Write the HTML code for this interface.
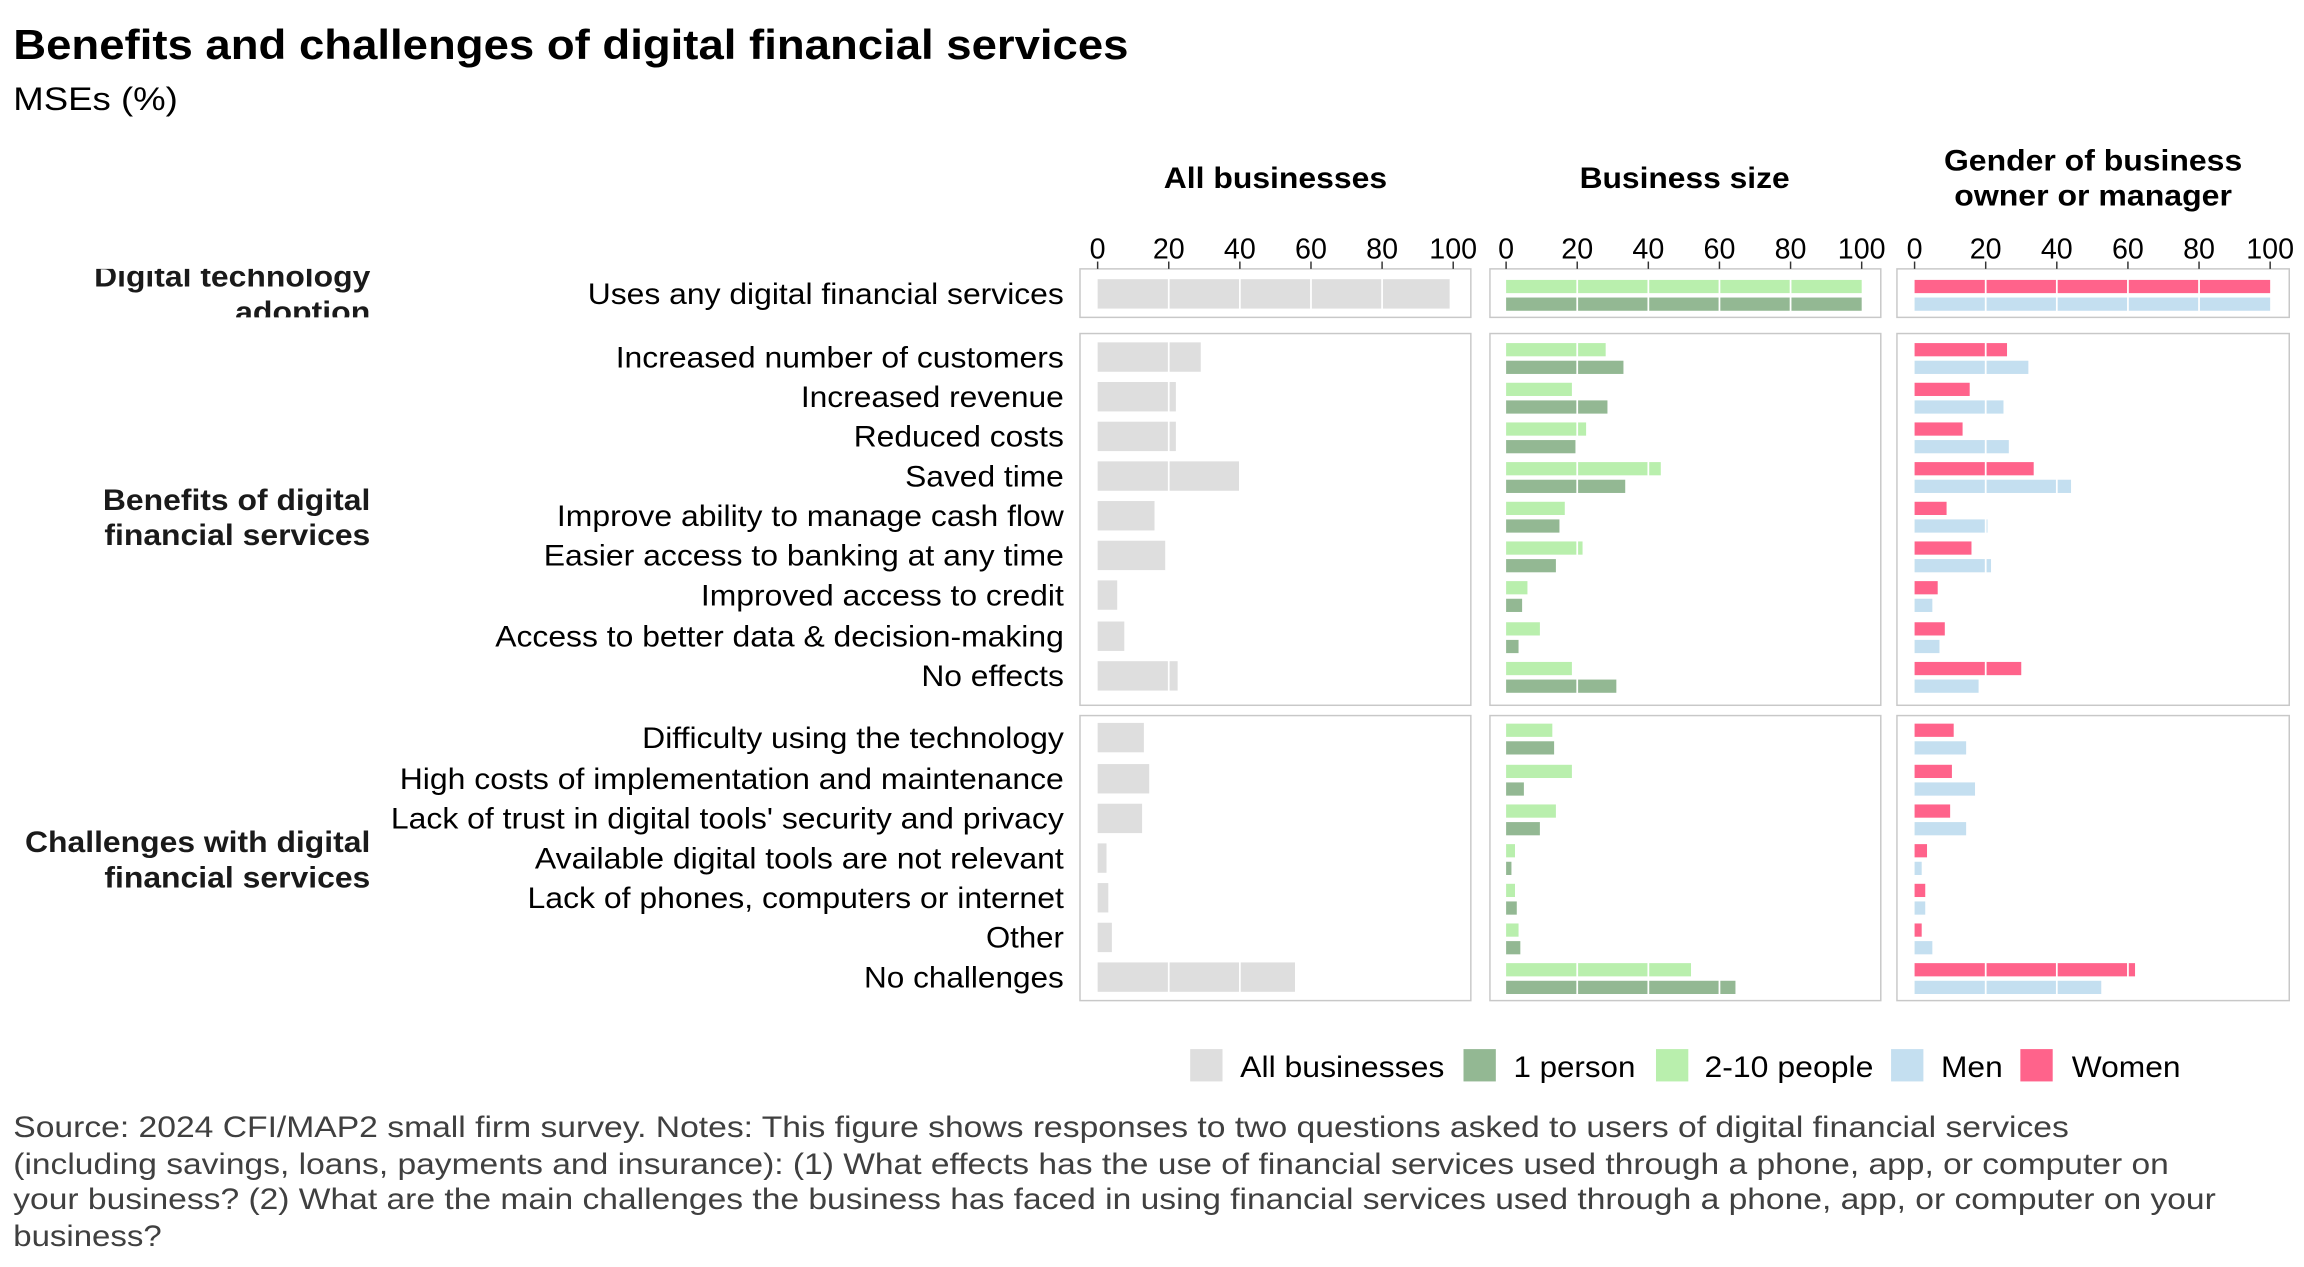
<!DOCTYPE html>
<html><head><meta charset="utf-8"><style>
html,body{margin:0;padding:0;background:#fff}
svg{display:block;font-family:"Liberation Sans",Arial,sans-serif}
</style></head><body>
<svg id="s" width="2304" height="1267" viewBox="0 0 1568 862.3" xmlns="http://www.w3.org/2000/svg">
<rect width="1568" height="863" fill="#fff"/>
<text x="9" y="40" font-size="28.5" font-weight="bold" fill="#000" textLength="759" lengthAdjust="spacingAndGlyphs">Benefits and challenges of digital financial services</text>
<text x="9" y="75" font-size="22" fill="#000" textLength="112" lengthAdjust="spacingAndGlyphs">MSEs (%)</text>
<g font-size="20" font-weight="bold" fill="#000">
<text x="792" y="128" textLength="152" lengthAdjust="spacingAndGlyphs">All businesses</text>
<text x="1075" y="128" textLength="143" lengthAdjust="spacingAndGlyphs">Business size</text>
<text x="1323" y="116" textLength="203" lengthAdjust="spacingAndGlyphs">Gender of business</text>
<text x="1330" y="140" textLength="189" lengthAdjust="spacingAndGlyphs">owner or manager</text>
</g>
<g id="g"></g>
<g font-size="20" fill="#000" lengthAdjust="spacingAndGlyphs">
<text x="400" y="207" textLength="324" lengthAdjust="spacingAndGlyphs">Uses any digital financial services</text>
<text x="419" y="250" textLength="305" lengthAdjust="spacingAndGlyphs">Increased number of customers</text>
<text x="545" y="277" textLength="179" lengthAdjust="spacingAndGlyphs">Increased revenue</text>
<text x="581" y="304" textLength="143" lengthAdjust="spacingAndGlyphs">Reduced costs</text>
<text x="616" y="331" textLength="108" lengthAdjust="spacingAndGlyphs">Saved time</text>
<text x="379" y="358" textLength="345" lengthAdjust="spacingAndGlyphs">Improve ability to manage cash flow</text>
<text x="370" y="385" textLength="354" lengthAdjust="spacingAndGlyphs">Easier access to banking at any time</text>
<text x="477" y="412" textLength="247" lengthAdjust="spacingAndGlyphs">Improved access to credit</text>
<text x="337" y="440" textLength="387" lengthAdjust="spacingAndGlyphs">Access to better data &amp; decision-making</text>
<text x="627" y="467" textLength="97" lengthAdjust="spacingAndGlyphs">No effects</text>
<text x="437" y="509" textLength="287" lengthAdjust="spacingAndGlyphs">Difficulty using the technology</text>
<text x="272" y="537" textLength="452" lengthAdjust="spacingAndGlyphs">High costs of implementation and maintenance</text>
<text x="266" y="564" textLength="458" lengthAdjust="spacingAndGlyphs">Lack of trust in digital tools' security and privacy</text>
<text x="364" y="591" textLength="360" lengthAdjust="spacingAndGlyphs">Available digital tools are not relevant</text>
<text x="359" y="618" textLength="365" lengthAdjust="spacingAndGlyphs">Lack of phones, computers or internet</text>
<text x="671" y="645" textLength="53" lengthAdjust="spacingAndGlyphs">Other</text>
<text x="588" y="672" textLength="136" lengthAdjust="spacingAndGlyphs">No challenges</text>
</g>
<defs><clipPath id="c1"><rect x="0" y="183" width="300" height="33"/></clipPath></defs>
<g font-size="20" font-weight="bold" fill="#1a1a1a">
<g clip-path="url(#c1)"><text x="64" y="195" textLength="188" lengthAdjust="spacingAndGlyphs">Digital technology</text><text x="160" y="219" textLength="92" lengthAdjust="spacingAndGlyphs">adoption</text></g>
<text x="70" y="347" textLength="182" lengthAdjust="spacingAndGlyphs">Benefits of digital</text><text x="71" y="371" textLength="181" lengthAdjust="spacingAndGlyphs">financial services</text>
<text x="17" y="580" textLength="235" lengthAdjust="spacingAndGlyphs">Challenges with digital</text><text x="71" y="604" textLength="181" lengthAdjust="spacingAndGlyphs">financial services</text>
</g>
<g font-size="19.5" text-anchor="middle" fill="#000">
<text x="747" y="176">0</text><text x="795.4" y="176">20</text><text x="843.8" y="176">40</text><text x="892.2" y="176">60</text><text x="940.6" y="176">80</text><text x="989" y="176">100</text>
<text x="1025" y="176">0</text><text x="1073.4" y="176">20</text><text x="1121.8" y="176">40</text><text x="1170.2" y="176">60</text><text x="1218.6" y="176">80</text><text x="1267" y="176">100</text>
<text x="1303" y="176">0</text><text x="1351.4" y="176">20</text><text x="1399.8" y="176">40</text><text x="1448.2" y="176">60</text><text x="1496.6" y="176">80</text><text x="1545" y="176">100</text>
</g>
<g font-size="20" fill="#000">
<rect x="810" y="714" width="22" height="22" fill="#dedede"/><text x="844" y="733" textLength="139" lengthAdjust="spacingAndGlyphs">All businesses</text>
<rect x="996" y="714" width="22" height="22" fill="#93b893"/><text x="1030" y="733" textLength="83" lengthAdjust="spacingAndGlyphs">1 person</text>
<rect x="1127" y="714" width="22" height="22" fill="#b9efad"/><text x="1160" y="733" textLength="115" lengthAdjust="spacingAndGlyphs">2-10 people</text>
<rect x="1287" y="714" width="22" height="22" fill="#c4dff0"/><text x="1321" y="733" textLength="42" lengthAdjust="spacingAndGlyphs">Men</text>
<rect x="1375" y="714" width="22" height="22" fill="#ff638b"/><text x="1410" y="733" textLength="74" lengthAdjust="spacingAndGlyphs">Women</text>
</g>
<g font-size="20" fill="#404040">
<text x="9" y="774" textLength="1399" lengthAdjust="spacingAndGlyphs">Source: 2024 CFI/MAP2 small firm survey. Notes: This figure shows responses to two questions asked to users of digital financial services</text>
<text x="9" y="799" textLength="1467" lengthAdjust="spacingAndGlyphs">(including savings, loans, payments and insurance): (1) What effects has the use of financial services used through a phone, app, or computer on</text>
<text x="9" y="823" textLength="1499" lengthAdjust="spacingAndGlyphs">your business? (2) What are the main challenges the business has faced in using financial services used through a phone, app, or computer on your</text>
<text x="9" y="848" textLength="101" lengthAdjust="spacingAndGlyphs">business?</text>
</g>
</svg>
<script>
var NS="http://www.w3.org/2000/svg",g=document.getElementById('g');
function r(x,y,w,h,f,st){var e=document.createElementNS(NS,'rect');e.setAttribute('x',x);e.setAttribute('y',y);e.setAttribute('width',w);e.setAttribute('height',h);e.setAttribute('fill',f);if(st){e.setAttribute('stroke',st);}g.appendChild(e);}
function l(x1,y1,x2,y2,c,w){var e=document.createElementNS(NS,'line');e.setAttribute('x1',x1);e.setAttribute('y1',y1);e.setAttribute('x2',x2);e.setAttribute('y2',y2);e.setAttribute('stroke',c);e.setAttribute('stroke-width',w);g.appendChild(e);}
var P=[[735,1001,747],[1014,1280,1025],[1291,1558,1303]],R=[[183,216],[227,480],[487,681]];
var ys=[200,243,270,297,324,351,378,405,433,460,502,530,557,584,611,638,665];
var all=[99,29,22,22,40,16,19,5.5,7.5,22.5,13,14.5,12.5,2.5,3,4,55.5];
var sL=[100,28,18.5,22.5,43.5,16.5,21.5,6,9.5,18.5,13,18.5,14,2.5,2.5,3.5,52];
var sD=[100,33,28.5,19.5,33.5,15,14,4.5,3.5,31,13.5,5,9.5,1.5,3,4,64.5];
var gW=[100,26,15.5,13.5,33.5,9,16,6.5,8.5,30,11,10.5,10,3.5,3,2,62];
var gM=[100,32,25,26.5,44,20.5,21.5,5,7,18,14.5,17,14.5,2,3,5,52.5];
var k=2.42;
P.forEach(function(p){R.forEach(function(q){r(p[0],q[0],p[1]-p[0],q[1]-q[0],'#fff','#c8c8c8');});for(var v=0;v<=100;v+=20)l(p[2]+v*k,178,p[2]+v*k,183,'#333',1);});
ys.forEach(function(y,i){
 r(747,y-10,all[i]*k,20,'#dedede');
 r(1025,y-9.5,sL[i]*k,9,'#b9efad');r(1025,y+2.5,sD[i]*k,9,'#93b893');
 r(1303,y-9.5,gW[i]*k,9,'#ff638b');r(1303,y+2.5,gM[i]*k,9,'#c4dff0');
});
P.forEach(function(p){R.forEach(function(q){for(var v=20;v<=80;v+=20)l(p[2]+v*k,q[0]+1,p[2]+v*k,q[1]-1,'#fff',1.2);});});
</script>
</body></html>
